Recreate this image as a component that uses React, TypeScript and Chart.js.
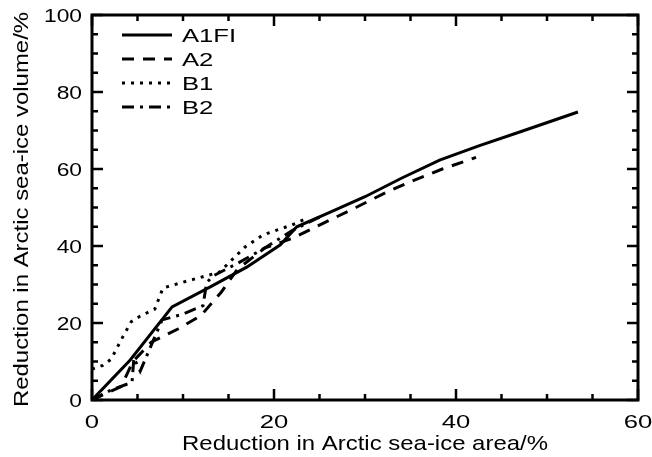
import React, { useEffect, useRef } from "react";
import { Chart, registerables } from "chart.js";

Chart.register(...registerables);

const seriesNames = ["A1FI", "A2", "B1", "B2"];

const a1fiX = [0, 4.2, 8.8, 13, 17, 20.7, 22.5, 26, 30, 34, 38.2, 42.5, 47, 53.4];
const a1fiY = [0, 10.4, 24.2, 29.4, 34.5, 40.3, 45, 48.6, 52.8, 57.6, 62.3, 66, 69.6, 74.8];

const a2X = [0, 3.2, 4.5, 6.5, 9.5, 12, 14.2, 16, 19, 22, 25.5, 29, 32.4, 35.3, 38.5, 42.2];
const a2Y = [0, 3.5, 10, 15, 18.5, 22, 28, 34, 39.5, 42, 46, 50, 54, 57, 60, 63];

const b1X = [0, 1.2, 2.1, 3.2, 4.3, 5.3, 6.9, 7.8, 9.7, 14, 16.8, 18.8, 22, 23.7];
const b1Y = [8, 9, 10.6, 15.6, 20.3, 21.8, 23.6, 29.1, 30.4, 33.2, 39.7, 42.9, 45.5, 47.3];

const b2X = [0, 2.1, 4.4, 4.6, 5.3, 7.7, 10, 12.2, 12.6, 13.3, 16, 19, 22, 25];
const b2Y = [0, 2.6, 4.6, 10.9, 7.5, 20.8, 22.3, 24.5, 30.5, 32.2, 35.5, 39.5, 44, 47.5];

const xTicks = [0, 20, 40, 60];
const yTicks = [0, 20, 40, 60, 80, 100];
const xMinorStep = 5;
const yMinorStep = 5;

const xTitle = "Reduction in Arctic sea-ice area/%";
const yTitle = "Reduction in Arctic sea-ice volume/%";

const FONT = "'Liberation Sans', Arial, Helvetica, sans-serif";

function pts(xs: number[], ys: number[]) {
  return xs.map((x, i) => ({ x, y: ys[i] }));
}

function stretchedText(ctx: any, text: string, x: number, y: number, sx: number, align: string) {
  ctx.save();
  ctx.translate(x, y);
  ctx.scale(sx, 1);
  ctx.textAlign = align;
  ctx.fillText(text, 0, 0);
  ctx.restore();
}

const framePlugin = {
  id: "idlFrame",
  afterDraw(chart: any) {
    const { ctx, chartArea } = chart;
    const xs = chart.scales.x;
    const ys = chart.scales.y;
    const { left, right, top, bottom } = chartArea;
    ctx.save();
    ctx.strokeStyle = "#000";
    ctx.fillStyle = "#000";
    ctx.lineWidth = 3;
    ctx.setLineDash([]);
    ctx.lineCap = "square";
    ctx.strokeRect(left, top, right - left, bottom - top);

    ctx.lineWidth = 2.5;
    ctx.lineCap = "butt";
    const majorLen = 11;
    const minorLen = 6;
    for (let v = xs.min; v <= xs.max + 1e-9; v += xMinorStep) {
      const px = xs.getPixelForValue(v);
      const len = xTicks.includes(v) ? majorLen : minorLen;
      ctx.beginPath();
      ctx.moveTo(px, bottom);
      ctx.lineTo(px, bottom - len);
      ctx.moveTo(px, top);
      ctx.lineTo(px, top + len);
      ctx.stroke();
    }
    for (let v = ys.min; v <= ys.max + 1e-9; v += yMinorStep) {
      const py = ys.getPixelForValue(v);
      const len = yTicks.includes(v) ? majorLen : minorLen;
      ctx.beginPath();
      ctx.moveTo(left, py);
      ctx.lineTo(left + len, py);
      ctx.moveTo(right, py);
      ctx.lineTo(right - len, py);
      ctx.stroke();
    }

    ctx.font = `19px ${FONT}`;
    ctx.textBaseline = "alphabetic";
    xTicks.forEach((v) => {
      stretchedText(ctx, String(v), xs.getPixelForValue(v), bottom + 28, 1.35, "center");
    });
    yTicks.forEach((v) => {
      stretchedText(ctx, String(v), left - 10, ys.getPixelForValue(v) + 7, 1.2, "right");
    });

    ctx.font = `21px ${FONT}`;
    stretchedText(ctx, xTitle, (left + right) / 2, bottom + 50, 1.14, "center");
    ctx.save();
    ctx.translate(28, (top + bottom) / 2 + 2);
    ctx.rotate(-Math.PI / 2);
    ctx.scale(1.14, 1);
    ctx.textAlign = "center";
    ctx.fillText(yTitle, 0, 0);
    ctx.restore();

    ctx.font = `19px ${FONT}`;
    chart.data.datasets.forEach((ds: any, i: number) => {
      const ly = 35 + i * 24;
      ctx.beginPath();
      ctx.lineWidth = 3;
      ctx.setLineDash(ds.borderDash || []);
      ctx.moveTo(122, ly);
      ctx.lineTo(172, ly);
      ctx.stroke();
      ctx.setLineDash([]);
      stretchedText(ctx, ds.label, 182, ly + 7, 1.35, "left");
    });
    ctx.restore();
  },
};

export default function App() {
  const ref = useRef<HTMLCanvasElement | null>(null);
  useEffect(() => {
    if (!ref.current) return;
    const common = {
      borderColor: "#000",
      backgroundColor: "#000",
      borderWidth: 3,
      pointRadius: 0,
      showLine: true,
      fill: false,
      tension: 0,
      borderCapStyle: "butt",
      borderJoinStyle: "miter",
    };
    const chart = new Chart(ref.current, {
      type: "scatter",
      data: {
        datasets: [
          { ...common, label: seriesNames[0], data: pts(a1fiX, a1fiY), borderDash: [] },
          { ...common, label: seriesNames[1], data: pts(a2X, a2Y), borderDash: [12, 9] },
          { ...common, label: seriesNames[2], data: pts(b1X, b1Y), borderDash: [3, 6] },
          { ...common, label: seriesNames[3], data: pts(b2X, b2Y), borderDash: [12, 6, 3, 6] },
        ],
      } as any,
      options: {
        responsive: false,
        animation: false,
        layout: { padding: { left: 92, right: 14, top: 15, bottom: 57 } },
        plugins: { legend: { display: false }, tooltip: { enabled: false } },
        scales: {
          x: { type: "linear", min: 0, max: 60, display: false },
          y: { type: "linear", min: 0, max: 100, display: false },
        },
      } as any,
      plugins: [framePlugin],
    });
    return () => chart.destroy();
  }, []);
  return (
    <div style={{ position: "fixed", left: 0, top: 0, width: 652, height: 457, background: "#fff" }}>
      <canvas ref={ref} width={652} height={457} style={{ width: 652, height: 457 }} />
    </div>
  );
}
